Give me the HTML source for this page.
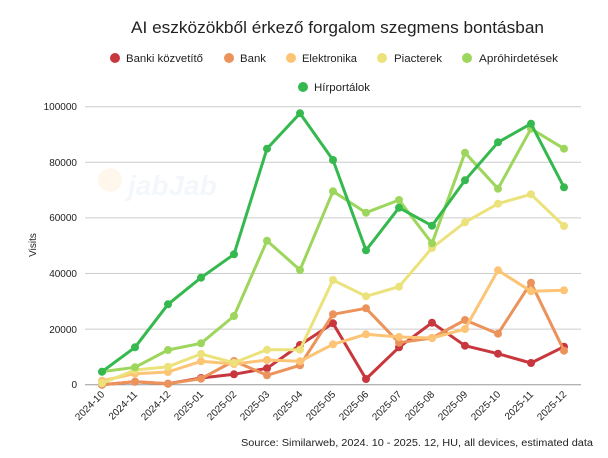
<!DOCTYPE html>
<html><head><meta charset="utf-8"><style>body{margin:0;background:#fff}svg{display:block}text{font-family:"Liberation Sans",sans-serif;fill:#222}</style></head><body>
<svg width="608" height="458" viewBox="0 0 608 458">
<text x="131" y="33" font-size="17" textLength="413" lengthAdjust="spacingAndGlyphs">AI eszközökből érkező forgalom szegmens bontásban</text>
<g font-size="11">
<circle cx="115" cy="58" r="5" fill="#c8373d"/><text x="126" y="62" textLength="77" lengthAdjust="spacingAndGlyphs">Banki közvetítő</text>
<circle cx="229" cy="58" r="5" fill="#eb935a"/><text x="240" y="62" textLength="26" lengthAdjust="spacingAndGlyphs">Bank</text>
<circle cx="291" cy="58" r="5" fill="#fcc474"/><text x="302" y="62" textLength="55" lengthAdjust="spacingAndGlyphs">Elektronika</text>
<circle cx="382" cy="58" r="5" fill="#ece27b"/><text x="394" y="62" textLength="48" lengthAdjust="spacingAndGlyphs">Piacterek</text>
<circle cx="467" cy="58" r="5" fill="#9dd65c"/><text x="479" y="62" textLength="79" lengthAdjust="spacingAndGlyphs">Apróhirdetések</text>
<circle cx="303" cy="87" r="5" fill="#35b94e"/><text x="314" y="91" textLength="56" lengthAdjust="spacingAndGlyphs">Hírportálok</text>
</g>
<g stroke="#ccc" stroke-width="1">
<line x1="85" y1="106.7" x2="581" y2="106.7"/><line x1="85" y1="162.3" x2="581" y2="162.3"/><line x1="85" y1="217.9" x2="581" y2="217.9"/><line x1="85" y1="273.5" x2="581" y2="273.5"/><line x1="85" y1="329.1" x2="581" y2="329.1"/>
</g>
<line x1="85" y1="384.7" x2="581" y2="384.7" stroke="#999"/>
<g font-size="10" text-anchor="end">
<text x="77" y="110">100000</text><text x="77" y="166">80000</text><text x="77" y="221">60000</text><text x="77" y="277">40000</text><text x="77" y="333">20000</text><text x="77" y="388">0</text>
</g>
<text x="36" y="245" font-size="10" transform="rotate(-90 36 245)" text-anchor="middle">Visits</text>
<g opacity="0.07" font-size="28" font-weight="bold" font-style="italic"><circle cx="110" cy="180" r="12" fill="#f90"/><text x="128" y="195" style="fill:#69c">jabJab</text></g>
<g font-size="10" text-anchor="end" id="xl"></g>
<g id="series" fill="none" stroke-width="3" stroke-linejoin="round"></g>
<text x="593" y="446" font-size="10" text-anchor="end" textLength="352" lengthAdjust="spacingAndGlyphs">Source: Similarweb, 2024. 10 - 2025. 12, HU, all devices, estimated data</text>
</svg>
<script>
var ns="http://www.w3.org/2000/svg";
var labels=["2024-10","2024-11","2024-12","2025-01","2025-02","2025-03","2025-04","2025-05","2025-06","2025-07","2025-08","2025-09","2025-10","2025-11","2025-12"];
var xl=document.getElementById("xl");
labels.forEach(function(l,i){var x=102+i*33;var t=document.createElementNS(ns,"text");t.setAttribute("x",x+3);t.setAttribute("y",395);t.setAttribute("transform","rotate(-45 "+(x+3)+" 395)");t.textContent=l;xl.appendChild(t);});
var S=[
["#c8373d",[884,875,881,864,853,835,765,700,867,772,698,767,791,819,770]],
["#eb935a",[884,875,881,866,813,856,826,673,655,758,744,690,731,578,782]],
["#fcc474",[872,851,846,814,822,810,814,763,733,741,744,717,541,604,601]],
["#ece27b",[880,840,830,792,818,779,779,570,619,590,474,397,341,313,408]],
["#9dd65c",[845,832,780,760,678,452,540,304,368,330,460,188,296,116,176]],
["#35b94e",[845,772,643,563,493,176,70,210,481,353,407,271,157,101,292]]];
var g=document.getElementById("series");
S.forEach(function(s){var pts=s[1].map(function(v,i){return (102+i*33).toFixed(1)+","+(90+v/3).toFixed(1)});
var p=document.createElementNS(ns,"polyline");p.setAttribute("points",pts.join(" "));p.setAttribute("stroke",s[0]);g.appendChild(p);
pts.forEach(function(q){var c=document.createElementNS(ns,"circle");var a=q.split(",");c.setAttribute("cx",a[0]);c.setAttribute("cy",a[1]);c.setAttribute("r",4);c.setAttribute("fill",s[0]);c.setAttribute("stroke","none");g.appendChild(c);});});
</script>
</body></html>
